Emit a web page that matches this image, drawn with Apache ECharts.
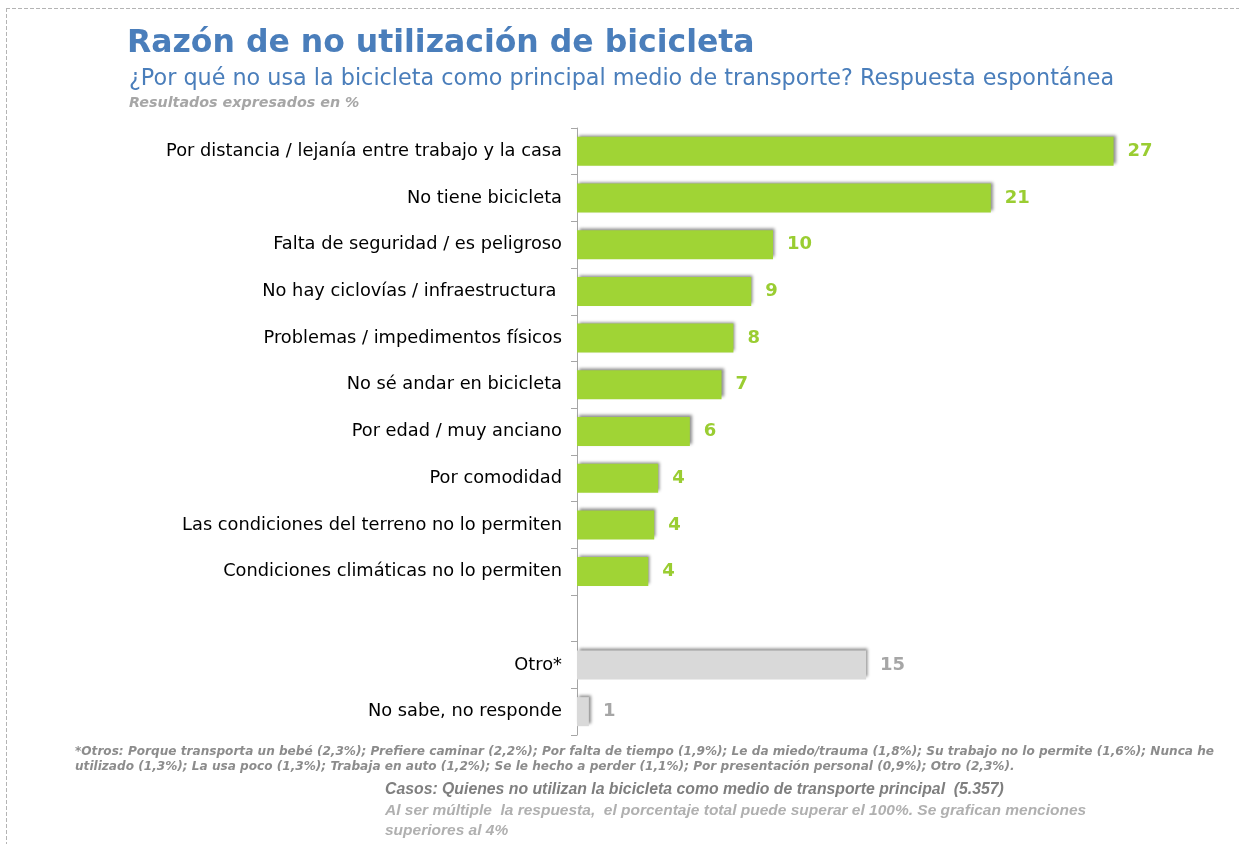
<!DOCTYPE html>
<html>
<head>
<meta charset="utf-8">
<script src="https://cdn.jsdelivr.net/npm/echarts@6/dist/echarts.min.js"></script>
<style>
  html, body { margin: 0; padding: 0; background: #fff; }
  #chart { width: 1239px; height: 844px; }
</style>
</head>
<body>
<div id="chart"></div>
<script>
// categorías (el hueco vacío separa Otro / NS-NR)
const categories = [
  'Por distancia / lejanía entre trabajo y la casa',
  'No tiene bicicleta',
  'Falta de seguridad / es peligroso',
  'No hay ciclovías / infraestructura ',
  'Problemas / impedimentos físicos',
  'No sé andar en bicicleta',
  'Por edad / muy anciano',
  'Por comodidad',
  'Las condiciones del terreno no lo permiten',
  'Condiciones climáticas no lo permiten',
  '',
  'Otro*',
  'No sabe, no responde'
];
const mainValues = [27.1, 20.9, 9.9, 8.8, 7.9, 7.3, 5.7, 4.1, 3.9, 3.6, null, null, null];
const otherValues = [null, null, null, null, null, null, null, null, null, null, null, 14.6, 0.6];

const GREEN = '#a0d435';
const GRAY = '#d9d9d9';

const chart = echarts.init(document.getElementById('chart'));

const barShadow = {
  shadowColor: 'rgba(0,0,0,0.45)',
  shadowBlur: 3,
  shadowOffsetX: 2,
  shadowOffsetY: -2
};

const option = {
  animation: false,
  backgroundColor: '#ffffff',
  textStyle: { fontFamily: 'DejaVu Sans' },
  title: [
    {
      text: 'Razón de no utilización de bicicleta',
      left: 122, top: 23,
      textStyle: { color: '#4a7ebb', fontSize: 31.5, fontWeight: 'bold', fontFamily: 'DejaVu Sans' }
    },
    {
      text: '¿Por qué no usa la bicicleta como principal medio de transporte? Respuesta espontánea',
      left: 124, top: 63,
      textStyle: { color: '#4a7ebb', fontSize: 22.3, fontWeight: 'normal', fontFamily: 'DejaVu Sans' }
    },
    {
      text: 'Resultados expresados en %',
      left: 124, top: 91,
      textStyle: { color: '#a6a6a6', fontSize: 14.3, fontWeight: 'bold', fontStyle: 'italic', fontFamily: 'DejaVu Sans' }
    }
  ],
  grid: { left: 577, top: 128, width: 594, height: 607 },
  xAxis: {
    type: 'value', min: 0, max: 30,
    show: false
  },
  yAxis: {
    type: 'category',
    data: categories,
    inverse: true,
    axisLine: { show: true, lineStyle: { color: '#a6a6a6', width: 1 } },
    axisTick: { show: true, inside: false, length: 6, lineStyle: { color: '#a6a6a6', width: 1 } },
    axisLabel: { color: '#000000', fontSize: 17.8, margin: 15, fontFamily: 'DejaVu Sans' }
  },
  series: [
    {
      type: 'bar',
      data: mainValues,
      barWidth: 29,
      barGap: '-100%',
      itemStyle: Object.assign({ color: GREEN }, barShadow),
      label: {
        show: true, position: 'right', distance: 14,
        color: '#9acd32', fontSize: 18, fontWeight: 'bold',
        formatter: p => Math.round(p.value)
      }
    },
    {
      type: 'bar',
      data: otherValues,
      barWidth: 29,
      barGap: '-100%',
      itemStyle: Object.assign({ color: GRAY }, barShadow),
      label: {
        show: true, position: 'right', distance: 14,
        color: '#a6a6a6', fontSize: 18, fontWeight: 'bold',
        formatter: p => Math.round(p.value)
      }
    }
  ],
  graphic: [
    // marco punteado
    { type: 'line', shape: { x1: 6, y1: 8.5, x2: 1239, y2: 8.5 }, style: { stroke: '#b4b4b4', lineDash: [4, 2], lineWidth: 1 } },
    { type: 'line', shape: { x1: 6.5, y1: 8, x2: 6.5, y2: 844 }, style: { stroke: '#b4b4b4', lineDash: [4, 2], lineWidth: 1 } },
    {
      type: 'text', left: 75, top: 744,
      style: {
        text: '*Otros: Porque transporta un bebé (2,3%); Prefiere caminar (2,2%); Por falta de tiempo (1,9%); Le da miedo/trauma (1,8%); Su trabajo no lo permite (1,6%); Nunca he\nutilizado (1,3%); La usa poco (1,3%); Trabaja en auto (1,2%); Se le hecho a perder (1,1%); Por presentación personal (0,9%); Otro (2,3%).',
        fill: '#8c8c8c', font: 'italic bold 12.1px "DejaVu Sans"', lineHeight: 15
      }
    },
    {
      type: 'text', left: 385, top: 782,
      style: {
        text: 'Casos: Quienes no utilizan la bicicleta como medio de transporte principal  (5.357)',
        fill: '#7f7f7f', font: 'italic bold 15.8px "Liberation Sans"'
      }
    },
    {
      type: 'text', left: 385, top: 801,
      style: {
        text: 'Al ser múltiple  la respuesta,  el porcentaje total puede superar el 100%. Se grafican menciones\nsuperiores al 4%',
        fill: '#b0b0b0', font: 'italic bold 15.5px "Liberation Sans"', lineHeight: 20
      }
    }
  ]
};

chart.setOption(option);
</script>
</body>
</html>
